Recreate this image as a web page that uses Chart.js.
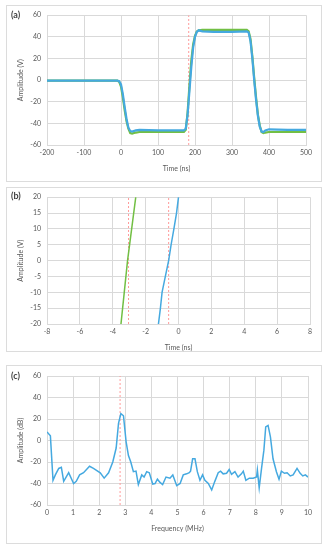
<!DOCTYPE html>
<html>
<head>
<meta charset="utf-8">
<script src="https://cdn.jsdelivr.net/npm/chart.js@4"></script>
<style>
  body { margin: 0; background: #fff; width: 328px; height: 550px; position: relative; font-family: Lato, sans-serif; }
  .box { position: absolute; left: 6px; width: 314px; border: 1px solid #dcdcdc; }
  canvas { position: absolute; left: 6px; }
  .lbl { position: absolute; left: 11px; font-size: 9px; font-weight: bold; color: #404040; line-height: 10px; }
</style>
</head>
<body>
<div class="box" style="top:5px;height:175px"></div>
<div class="box" style="top:187px;height:163px"></div>
<div class="box" style="top:365px;height:177px"></div>
<canvas id="chartA" width="316" height="177" style="top:5px"></canvas>
<canvas id="chartB" width="316" height="165" style="top:187px"></canvas>
<canvas id="chartC" width="316" height="179" style="top:365px"></canvas>
<div class="lbl" style="top:10px">(a)</div>
<div class="lbl" style="top:191px">(b)</div>
<div class="lbl" style="top:371px">(c)</div>
<script>
// (a) pulse, time in ns
var timeA = [-200, -150, -100, -50, -10, -5, 0, 5, 10, 15, 20, 25, 30, 40, 50, 100, 150, 170, 175, 180, 185, 190, 195, 200, 205, 210, 220, 250, 300, 340, 345, 350, 355, 360, 365, 370, 375, 380, 385, 390, 400, 450, 500];
var greenA = [-0.5, -0.5, -0.5, -0.5, -0.5, -1.5, -6, -16, -28, -38, -45, -49, -49.5, -48.5, -48, -48, -48, -48, -46, -30, -5, 18, 33, 41, 45, 46, 46.5, 46.5, 46.5, 46.5, 45, 38, 22, 2, -16, -32, -42, -48, -49, -48.5, -48, -48, -48];
var blueA = [-0.5, -0.5, -0.5, -0.5, -0.5, -1, -4, -13, -25, -36, -44, -47, -47.5, -46.5, -46, -46.5, -46.5, -46.5, -45, -32, -10, 12, 30, 40, 44.5, 46, 45, 44.5, 44.5, 45, 44, 36, 20, 0, -18, -33, -43, -47.5, -48, -46.5, -45.5, -46, -46];
var refA = [183];

// (b) zoom on the rising edge
var greenBx = [-3.5, -3.3, -3.1, -2.85, -2.6];
var greenBy = [-20, -10, 0, 10, 20];
var blueBx = [-1.22, -1.1, -1.0, -0.8, -0.6, -0.45, -0.28, -0.12, 0];
var blueBy = [-20, -15, -10, -5, 0, 5, 10, 15, 20];
var refB = [-3.04, -0.6];

// (c) spectrum
var freqC = [0, 0.13, 0.23, 0.32, 0.45, 0.55, 0.64, 0.83, 1.02, 1.12, 1.25, 1.4, 1.63, 1.78, 2.04, 2.19, 2.36, 2.52, 2.65, 2.74, 2.83, 2.93, 3.03, 3.12, 3.21, 3.31, 3.41, 3.5, 3.63, 3.72, 3.82, 3.92, 4.05, 4.14, 4.23, 4.33, 4.43, 4.56, 4.71, 4.82, 4.97, 5.1, 5.22, 5.35, 5.45, 5.5, 5.58, 5.67, 5.76, 5.86, 5.96, 6.05, 6.18, 6.31, 6.43, 6.56, 6.65, 6.75, 6.88, 6.98, 7.07, 7.2, 7.32, 7.45, 7.52, 7.62, 7.75, 7.9, 8.03, 8.06, 8.13, 8.22, 8.31, 8.38, 8.47, 8.56, 8.66, 8.79, 8.89, 8.98, 9.1, 9.2, 9.32, 9.43, 9.58, 9.7, 9.8, 9.9, 10];
var ampC = [8, 4.3, -37, -32, -26, -25, -38, -30, -40, -38, -32, -30, -24, -26, -30, -35, -30, -20, -7, 16, 25, 23, -1, -14, -20, -29, -28.5, -41, -32, -34, -29, -30, -40.5, -40, -36, -39, -41, -34, -35, -32, -42, -40, -32, -31, -30, -28.5, -17, -17, -29, -37, -32, -37, -40, -46, -38, -30, -28.5, -31, -30.5, -27, -31.5, -29, -34, -31, -28.5, -37, -35, -35, -34, -27.5, -44, -26, -9, 12.7, 14, 3.4, -17, -29, -36, -28.5, -30.5, -30, -33, -32, -26, -30.5, -33, -32, -34];
var refC = [2.8];

var BLUE = '#45a9e0';
var GREEN = '#72bf44';
var RED = '#ff9a9a';
var GRID = '#d9d9d9';

Chart.defaults.font.family = 'Lato, sans-serif';
Chart.defaults.font.size = 7;
Chart.defaults.color = '#595959';

function pts(xs, ys) {
    return xs.map(function (x, i) { return { x: x, y: ys[i] }; });
}

function refLines(xs, ymin, ymax) {
    return xs.map(function (x) {
        return {
            data: [{ x: x, y: ymin }, { x: x, y: ymax }],
            borderColor: RED, borderWidth: 1, borderDash: [2, 2],
            pointRadius: 0, order: 5
        };
    });
}

function makeChart(id, datasets, x, y, pad) {
    return new Chart(document.getElementById(id), {
        type: 'line',
        data: { datasets: datasets },
        options: {
            responsive: false,
            animation: false,
            layout: { padding: pad },
            plugins: { legend: { display: false }, tooltip: { enabled: false } },
            scales: {
                x: {
                    type: 'linear', min: x.min, max: x.max,
                    ticks: { stepSize: x.step, padding: 4 },
                    grid: { color: GRID, drawTicks: false },
                    border: { color: GRID },
                    title: { display: true, text: x.title, padding: 0 },
                    afterFit: function (s) { s.height = 28; }
                },
                y: {
                    min: y.min, max: y.max,
                    ticks: { stepSize: y.step, padding: 6 },
                    grid: { color: GRID, drawTicks: false },
                    border: { color: GRID },
                    title: { display: true, text: y.title, padding: { top: 4, bottom: 0 } },
                    afterFit: function (s) { s.width = 34; }
                }
            }
        }
    });
}

makeChart('chartA', [
    { data: pts(timeA, blueA), borderColor: BLUE, borderWidth: 2.2, pointRadius: 0, order: 0 },
    { data: pts(timeA, greenA), borderColor: GREEN, borderWidth: 2.2, pointRadius: 0, order: 1 }
].concat(refLines(refA, -60, 60)),
    { min: -200, max: 500, step: 100, title: 'Time (ns)' },
    { min: -60, max: 60, step: 20, title: 'Amplitude (V)' },
    { left: 7, right: 16, top: 10, bottom: 9 });

makeChart('chartB', [
    { data: pts(blueBx, blueBy), borderColor: BLUE, borderWidth: 1.5, pointRadius: 0, order: 0 },
    { data: pts(greenBx, greenBy), borderColor: GREEN, borderWidth: 1.5, pointRadius: 0, order: 1 }
].concat(refLines(refB, -20, 20)),
    { min: -8, max: 8, step: 2, title: 'Time (ns)' },
    { min: -20, max: 20, step: 5, title: 'Amplitude (V)' },
    { left: 7, right: 12, top: 10, bottom: 0 });

makeChart('chartC', [
    { data: pts(freqC, ampC), borderColor: BLUE, borderWidth: 1.5, pointRadius: 0, order: 0 }
].concat(refLines(refC, -60, 60)),
    { min: 0, max: 10, step: 1, title: 'Frequency (MHz)' },
    { min: -60, max: 60, step: 20, title: 'Amplitude (dB)' },
    { left: 7, right: 14, top: 11, bottom: 11 });
</script>
</body>
</html>
